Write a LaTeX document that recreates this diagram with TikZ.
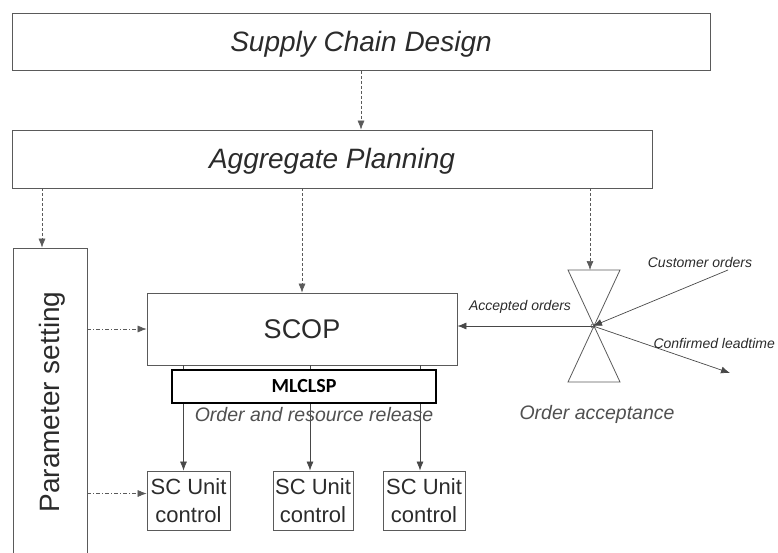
\documentclass[tikz,border=0pt]{standalone}
\usepackage{fontspec}
\setmainfont{Liberation Sans}
\newfontfamily\calib{Carlito}
\usetikzlibrary{arrows.meta}
\definecolor{ln}{HTML}{5A5A5A}
\definecolor{tx}{HTML}{2B2B2B}
\definecolor{lt}{HTML}{505050}
\begin{document}
\begin{tikzpicture}[x=1pt,y=-1pt,
  box/.style={draw=ln, line width=0.8pt, inner sep=0pt, text=tx},
  tipa/.style={-{Latex[length=9pt,width=7pt]}},
  dep/.style={tipa, draw=ln, densely dashed, line width=0.6pt},
  dd/.style={tipa, draw=ln, dash pattern=on 4pt off 2pt on 1pt off 2pt, line width=0.6pt},
  sol/.style={tipa, draw=ln!80!black, line width=0.7pt},
  big/.style={font=\itshape\fontsize{28}{30}\selectfont, text=tx},
  sml/.style={font=\itshape\fontsize{14}{16}\selectfont, text=tx},
  mid/.style={font=\itshape\fontsize{19.5}{22}\selectfont, text=lt},
  unit/.style={box, minimum height=59pt, align=center, font=\fontsize{22}{28}\selectfont}
]
\useasboundingbox (0,0) rectangle (778,553);

\node[box, minimum width=698pt, minimum height=57pt] (scd) at (361,42) {};
\node[big] (scdt) at ([yshift=-2pt]scd.center) {Supply Chain Design};
\node[box, minimum width=640pt, minimum height=58pt] (ap) at (332,159) {};
\node[big] (apt) at ([yshift=-2pt]ap.center) {Aggregate Planning};

\node[box, minimum width=74pt, minimum height=312pt] (ps) at (50,404) {};
\node[rotate=90, font=\fontsize{28}{30}\selectfont, text=tx] (pst) at (52,402) {Parameter setting};

\node[box, minimum width=310pt, minimum height=72pt, font=\fontsize{27}{30}\selectfont] (scop) at (302,329) {SCOP};

\node[unit, minimum width=83pt] (u1) at (188.5,500.5) {SC Unit\\control};
\node[unit, minimum width=80pt] (u2) at (313,500.5) {SC Unit\\control};
\node[unit, minimum width=82pt] (u3) at (424,500.5) {SC Unit\\control};

\coordinate (oa) at (593,326);
\coordinate (oatop) at (590,270);
\coordinate (co) at (728,270);
\coordinate (cl) at (730,373);
\coordinate (u1in) at ([yshift=7pt]u1.west);
\draw[ln, line width=0.8pt] (568,270) -- (620,270) -- (568,382) -- (620,382) -- cycle;
\draw[ln, line width=0.6pt] (oa) circle (2pt);

% connectors
\draw[dep] (scd.south) -- (scd.south |- ap.north);
\draw[dep] ([xshift=-8pt]ps.north |- ap.south) -- ([xshift=-8pt]ps.north);
\draw[dep] (scop.north |- ap.south) -- (scop.north);
\draw[dep] (oatop |- ap.south) -- (oatop);
\draw[dd] (ps.east |- scop.west) -- (scop.west);
\draw[dd] (ps.east |- u1in) -- (u1in);
\draw[sol] ([xshift=-5pt]u1.north |- scop.south) -- ([xshift=-5pt]u1.north);
\draw[sol] ([xshift=-3pt]u2.north |- scop.south) -- ([xshift=-3pt]u2.north);
\draw[sol] ([xshift=-4pt]u3.north |- scop.south) -- ([xshift=-4pt]u3.north);
\draw[sol] (oa) -- (scop.east |- oa);
\draw[sol] (co) -- (oa);
\draw[sol] (oa) -- (cl);

\node[draw=black, fill=white, line width=2.5pt, minimum width=264pt, minimum height=33pt, inner sep=0pt,
  font=\calib\bfseries\fontsize{20}{22}\selectfont] (ml) at (304,386.5) {MLCLSP};

% labels
\node[mid] (orr) at (314,415) {Order and resource release};
\node[mid] (oal) at (597,414) {Order acceptance};
\node[sml] (acc) at (520,307) {Accepted orders};
\node[sml] (cus) at (700,262) {Customer orders};
\node[sml, anchor=west] (con) at (650,343) {Confirmed leadtime};
\end{tikzpicture}
\end{document}
